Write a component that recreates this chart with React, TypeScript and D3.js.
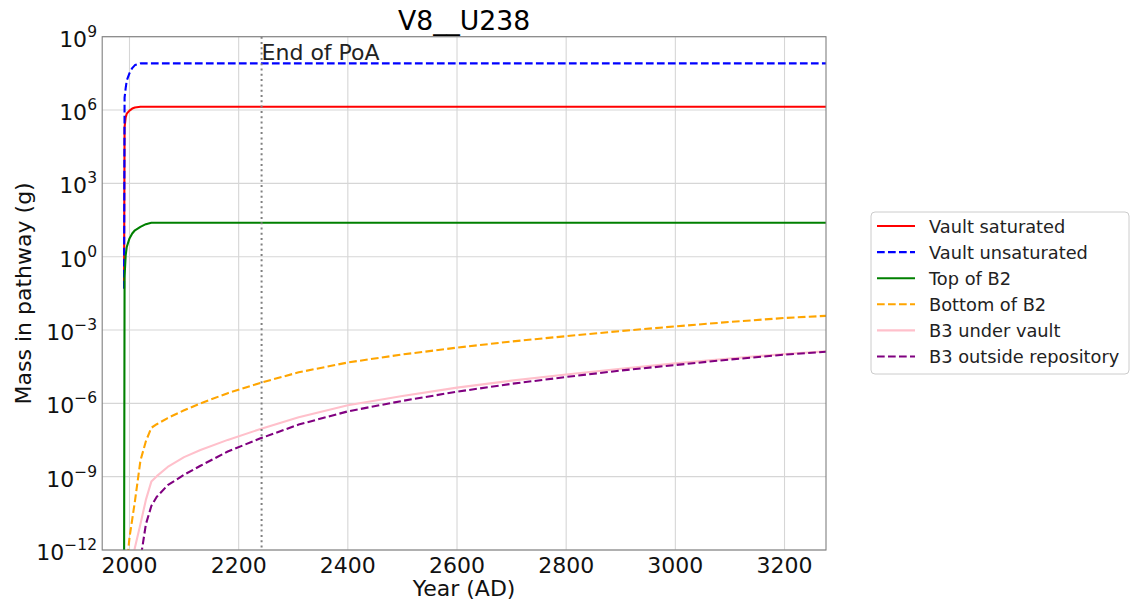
import React from "react";
import * as d3 from "d3";

// Simulation output: mass of U238 in each pathway (grams) by calendar year
const years = [1990, 1991, 1993, 1995, 2000, 2005, 2010, 2020, 2030, 2040, 2050, 2070, 2100, 2130, 2180, 2240, 2310, 2400, 2500, 2600, 2700, 2800, 2900, 3000, 3100, 3200, 3276];

const vaultSaturated = [0.05, 2.0e5, 5.0e5, 7.1e5, 9.5e5, 1.15e6, 1.26e6, 1.37e6, 1.37e6, 1.37e6, 1.37e6, 1.37e6, 1.37e6, 1.37e6, 1.37e6, 1.37e6, 1.37e6, 1.37e6, 1.37e6, 1.37e6, 1.37e6, 1.37e6, 1.37e6, 1.37e6, 1.37e6, 1.37e6, 1.37e6];
const vaultUnsaturated = [0.05, 3.2e6, 7.9e6, 1.6e7, 3.2e7, 5.2e7, 6.9e7, 8.1e7, 8.1e7, 8.1e7, 8.1e7, 8.1e7, 8.1e7, 8.1e7, 8.1e7, 8.1e7, 8.1e7, 8.1e7, 8.1e7, 8.1e7, 8.1e7, 8.1e7, 8.1e7, 8.1e7, 8.1e7, 8.1e7, 8.1e7];
const topOfB2 = [1e-14, 0.16, 1.12, 2.5, 5.6, 8.9, 12, 16.6, 21.4, 24.5, 24.5, 24.5, 24.5, 24.5, 24.5, 24.5, 24.5, 24.5, 24.5, 24.5, 24.5, 24.5, 24.5, 24.5, 24.5, 24.5, 24.5];
const bottomOfB2 = [1e-14, 1e-14, 1e-14, 2.5e-13, 3.2e-12, 1.8e-11, 1.0e-10, 4.5e-9, 2.8e-8, 1.0e-7, 1.4e-7, 2.5e-7, 5.2e-7, 1.0e-6, 2.6e-6, 6.9e-6, 1.86e-5, 4.7e-5, 1.0e-4, 1.9e-4, 3.4e-4, 5.6e-4, 9.1e-4, 1.41e-3, 2.14e-3, 3.1e-3, 3.8e-3];
const b3UnderVault = [1e-14, 1e-14, 1e-14, 1e-14, 1e-14, 4.0e-13, 1.26e-12, 1.12e-11, 1.12e-10, 6.3e-10, 1.05e-9, 2.5e-9, 6.3e-9, 1.23e-8, 3.2e-8, 8.9e-8, 2.7e-7, 8.3e-7, 2.0e-6, 4.4e-6, 8.5e-6, 1.51e-5, 2.6e-5, 4.3e-5, 6.8e-5, 1.05e-4, 1.35e-4];
const b3OutsideRepository = [1e-14, 1e-14, 1e-14, 1e-14, 1e-14, 1e-14, 1e-14, 4.0e-13, 1.12e-11, 6.3e-11, 1.5e-10, 4.5e-10, 1.2e-9, 2.8e-9, 1.07e-8, 3.7e-8, 1.35e-7, 4.7e-7, 1.26e-6, 3.0e-6, 6.3e-6, 1.2e-5, 2.2e-5, 3.7e-5, 6.2e-5, 9.8e-5, 1.29e-4];

const endOfPoA = 2242;

const xTicks = [2000, 2200, 2400, 2600, 2800, 3000, 3200];
const yTickExponents = [-12, -9, -6, -3, 0, 3, 6, 9];

const series = [
  { name: "Vault saturated", values: vaultSaturated, color: "#ff0000", dash: null, width: 2.1 },
  { name: "Vault unsaturated", values: vaultUnsaturated, color: "#0000ff", dash: "7.7,3.3", width: 2.1 },
  { name: "Top of B2", values: topOfB2, color: "#008000", dash: null, width: 2.1 },
  { name: "Bottom of B2", values: bottomOfB2, color: "#ffa500", dash: "7.7,3.3", width: 2.1 },
  { name: "B3 under vault", values: b3UnderVault, color: "#ffc0cb", dash: null, width: 2.1 },
  { name: "B3 outside repository", values: b3OutsideRepository, color: "#800080", dash: "7.7,3.3", width: 2.1 },
];

const W = 1132;
const H = 605;
const plot = { left: 102.2, right: 826, top: 36.7, bottom: 550 };
const FONT = "'DejaVu Sans', sans-serif";

export default function App() {
  const x = d3.scaleLinear().domain([1950, 3276]).range([plot.left, plot.right]);
  const y = d3.scaleLog().domain([1e-12, 1e9]).range([plot.bottom, plot.top]);

  const line = d3
    .line<[number, number]>()
    .x((d) => x(d[0]))
    .y((d) => y(d[1]));

  const cx = (plot.left + plot.right) / 2;
  const cy = (plot.top + plot.bottom) / 2;

  const legend = { x: 871, y: 212, w: 258, h: 162, row0: 226, rowStep: 26.1 };

  return (
    <svg
      width={W}
      height={H}
      viewBox={`0 0 ${W} ${H}`}
      style={{ position: "absolute", left: 0, top: 0, background: "#fff" }}
      fontFamily={FONT}
    >
      <defs>
        <clipPath id="plot-area">
          <rect x={plot.left} y={plot.top} width={plot.right - plot.left} height={plot.bottom - plot.top} />
        </clipPath>
      </defs>

      {/* grid */}
      <g stroke="#d6d6d6" strokeWidth={1.1}>
        {xTicks.map((t) => (
          <line key={"gx" + t} x1={x(t)} x2={x(t)} y1={plot.top} y2={plot.bottom} />
        ))}
        {yTickExponents.map((e) => (
          <line key={"gy" + e} x1={plot.left} x2={plot.right} y1={y(Math.pow(10, e))} y2={y(Math.pow(10, e))} />
        ))}
      </g>

      {/* series */}
      <g clipPath="url(#plot-area)" fill="none">
        {series.map((s) => (
          <path
            key={s.name}
            d={line(years.map((yr, i) => [yr, s.values[i]] as [number, number])) || ""}
            stroke={s.color}
            strokeWidth={s.width}
            strokeDasharray={s.dash || undefined}
            strokeLinejoin="round"
          />
        ))}
        <line
          x1={x(endOfPoA)}
          x2={x(endOfPoA)}
          y1={plot.top}
          y2={plot.bottom}
          stroke="#808080"
          strokeWidth={2}
          strokeDasharray="2,3.3"
        />
      </g>

      <text x={x(endOfPoA)} y={60} fontSize={22} fill="#222">
        End of PoA
      </text>

      {/* frame */}
      <rect
        x={plot.left}
        y={plot.top}
        width={plot.right - plot.left}
        height={plot.bottom - plot.top}
        fill="none"
        stroke="#808080"
        strokeWidth={1.1}
      />

      {/* x tick labels */}
      {xTicks.map((t) => (
        <text key={"tx" + t} x={x(t)} y={572.5} fontSize={22} textAnchor="middle" fill="#111">
          {t}
        </text>
      ))}

      {/* y tick labels */}
      {yTickExponents.map((e) => (
        <text key={"ty" + e} x={97} y={y(Math.pow(10, e)) + 10} fontSize={22} textAnchor="end" fill="#111">
          <tspan>10</tspan>
          <tspan fontSize={15.5} dy={-10}>
            {e < 0 ? "\u2212" + Math.abs(e) : String(e)}
          </tspan>
        </text>
      ))}

      {/* axis titles */}
      <text x={cx} y={595.5} fontSize={22} textAnchor="middle" fill="#111">
        Year (AD)
      </text>
      <text
        transform={`translate(31,${cy}) rotate(-90)`}
        fontSize={22}
        textAnchor="middle"
        fill="#111"
      >
        Mass in pathway (g)
      </text>

      <text x={cx} y={30} fontSize={26.7} textAnchor="middle" fill="#000">
        V8__U238
      </text>

      {/* legend */}
      <rect
        x={legend.x}
        y={legend.y}
        width={legend.w}
        height={legend.h}
        rx={4}
        fill="#fff"
        fillOpacity={0.8}
        stroke="#cccccc"
        strokeWidth={1}
      />
      {series.map((s, i) => {
        const ry = legend.row0 + i * legend.rowStep;
        return (
          <g key={"lg" + s.name}>
            <line
              x1={877}
              x2={915}
              y1={ry}
              y2={ry}
              stroke={s.color}
              strokeWidth={s.width}
              strokeDasharray={s.dash || undefined}
            />
            <text x={929} y={ry + 6.5} fontSize={17.8} fill="#222">
              {s.name}
            </text>
          </g>
        );
      })}
    </svg>
  );
}
